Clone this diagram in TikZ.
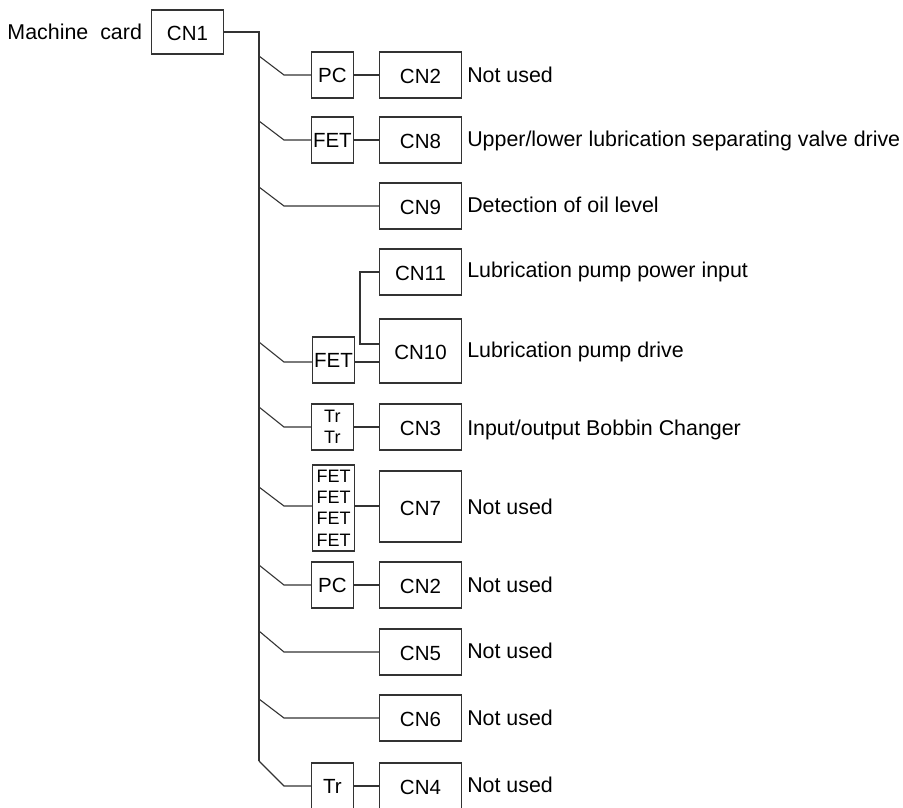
\documentclass[tikz,border=0pt]{standalone}
\usepackage{fontspec}
\setmainfont{Liberation Sans}
\usepackage{tikz}
\usetikzlibrary{positioning}

\begin{document}
\begin{tikzpicture}[
    x=1pt, y=-1pt, line width=1.1pt, draw=black!80,
    font=\fontsize{20.5}{22}\selectfont, node distance=25pt,
    cnbox/.style={rectangle, draw, inner sep=0pt, align=center, text height=18pt,
                  minimum height=46pt, minimum width=82pt},
    part/.style={rectangle, draw, inner sep=0pt, align=center,
                 minimum height=46pt, minimum width=42pt},
    stack/.style={font=\fontsize{18}{21.4}\selectfont},
    lbl/.style={anchor=base west, inner sep=0pt, font=\fontsize{21.4}{24}\selectfont},
    wire/.style={line width=1.1pt}
]
\clip (0,0) rectangle (903,807);

% Card at the top
\node[cnbox, minimum width=72pt, minimum height=44pt] (cn1) at (187.5,32) {CN1};
\node[lbl, anchor=base east] (card) at (142.5,39) {Machine\hspace{0.28em} card};

% Connector column
\node[cnbox] (cn2a) at (420.5,75)  {CN2};
\node[cnbox] (cn8)  at (420.5,140) {CN8};
\node[cnbox] (cn9)  at (420.5,206) {CN9};
\node[cnbox] (cn11) at (420.5,272) {CN11};
\node[cnbox, minimum height=64pt] (cn10) at (420.5,351) {CN10};
\node[cnbox] (cn3)  at (420.5,427) {CN3};
\node[cnbox, minimum height=71pt] (cn7) at (420.5,506.5) {CN7};
\node[cnbox] (cn2b) at (420.5,585) {CN2};
\node[cnbox] (cn5)  at (420.5,652) {CN5};
\node[cnbox] (cn6)  at (420.5,718) {CN6};
\node[cnbox] (cn4)  at (420.5,786) {CN4};

% Parts in front of the connectors
\node[part, left=25pt of cn2a] (pca)  {PC};
\node[part, left=25pt of cn8]  (feta) {FET};
\node[part] (fetb) at (333.5,360) {FET};
\node[part, stack, left=25pt of cn3] (trs) {Tr\\Tr};
\node[part, stack, minimum height=86pt] (fets) at (333.5,508) {FET\\FET\\FET\\FET};
\node[part, left=25pt of cn2b] (pcb)  {PC};
\node[part, left=25pt of cn4]  (tra)  {Tr};

% Labels
\node[lbl] (t2a)  at (466.7,82.7)  {Not used};
\node[lbl] (t8)   at (466.7,146.7) {Upper/lower lubrication separating valve drive};
\node[lbl] (t9)   at (466.7,212.7) {Detection of oil level};
\node[lbl] (t11)  at (466.7,277.7) {Lubrication pump power input};
\node[lbl] (t10)  at (466.7,357.7) {Lubrication pump drive};
\node[lbl] (t3)   at (466.7,435)   {Input/output Bobbin Changer};
\node[lbl] (t7)   at (466.7,514)   {Not used};
\node[lbl] (t2b)  at (466.7,592)   {Not used};
\node[lbl] (t5)   at (466.7,658.7) {Not used};
\node[lbl] (t6)   at (466.7,725)   {Not used};
\node[lbl] (t4)   at (466.7,792)   {Not used};

% Trunk
\coordinate (top) at (259,32);
\coordinate (bot) at (259,761);
\draw[wire] (cn1) -- (top) -- (bot);

% Branches off the trunk
\coordinate (s1) at (259,56);   \coordinate (e1) at (284,75);
\coordinate (s2) at (259,121);  \coordinate (e2) at (284,140);
\coordinate (s3) at (259,187);  \coordinate (e3) at (284,206);
\coordinate (s4) at (259,342);  \coordinate (e4) at (284,362);
\coordinate (s5) at (259,407);  \coordinate (e5) at (284,427);
\coordinate (s6) at (259,487);  \coordinate (e6) at (284,506);
\coordinate (s7) at (259,565);  \coordinate (e7) at (284,585);
\coordinate (s8) at (259,631);  \coordinate (e8) at (284,652);
\coordinate (s9) at (259,699);  \coordinate (e9) at (284,718);
\coordinate (s10) at (259,761); \coordinate (e10) at (284,786);

\draw[wire] (s1) -- (e1) -- (pca);
\draw[wire] (pca) -- (cn2a);
\draw[wire] (s2) -- (e2) -- (feta);
\draw[wire] (feta) -- (cn8);
\draw[wire] (s3) -- (e3) -- (cn9);
\draw[wire] (s4) -- (e4) -- (e4 -| fetb.west);
\draw[wire] (e4 -| fetb.east) -- (e4 -| cn10.west);
\draw[wire] (s5) -- (e5) -- (trs);
\draw[wire] (trs) -- (cn3);
\draw[wire] (s6) -- (e6) -- (e6 -| fets.west);
\draw[wire] (e6 -| fets.east) -- (e6 -| cn7.west);
\draw[wire] (s7) -- (e7) -- (pcb);
\draw[wire] (pcb) -- (cn2b);
\draw[wire] (s8) -- (e8) -- (cn5);
\draw[wire] (s9) -- (e9) -- (cn6);
\draw[wire] (s10) -- (e10) -- (tra);
\draw[wire] (tra) -- (cn4);

% CN11 hangs off CN10
\coordinate (tap) at (379.5,344);
\draw[wire] (cn11.west) -- ++(-19,0) |- (tap);
\end{tikzpicture}
\end{document}
